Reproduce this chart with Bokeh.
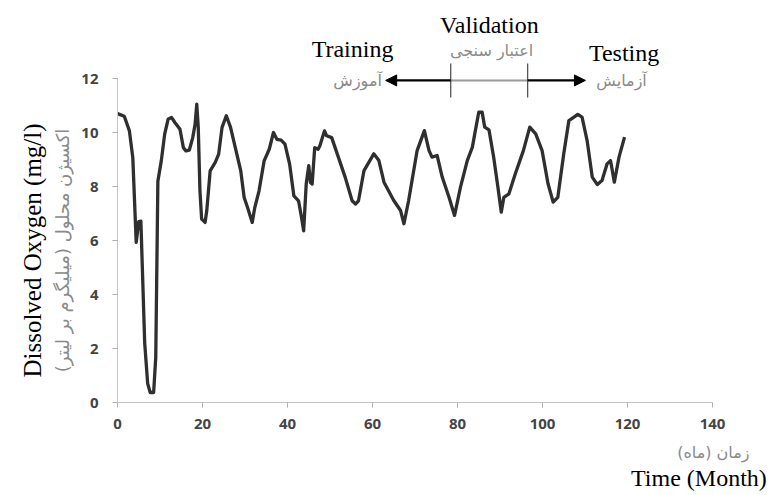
import math
from bokeh.plotting import figure
from bokeh.models import Range1d, FixedTicker, Arrow, NormalHead
from bokeh.core.properties import value
from bokeh.embed import file_html
from bokeh.resources import INLINE

# ---- data ----
month = [0, 1.6, 2.8, 3.6, 4.4, 5.0, 5.5, 6.4, 7.1, 7.7, 8.5, 9.0, 9.5, 10.3, 11.1,
         11.9, 12.7, 13.5, 14.7, 15.5, 16.1, 16.9, 17.7, 18.25, 18.65, 19.0, 19.4,
         19.8, 20.6, 21.0, 21.8, 23.0, 23.8, 24.6, 25.6, 26.6, 27.8, 29.0, 29.8,
         30.6, 31.7, 32.3, 33.3, 34.5, 35.7, 36.7, 37.5, 38.5, 39.4, 40.5, 41.5,
         42.6, 43.3, 43.8, 44.4, 45.0, 45.4, 45.8, 46.4, 47.2, 47.6, 48.7, 49.2,
         50.4, 52.0, 53.6, 55.2, 56.0, 56.7, 58.0, 60.3, 61.5, 62.7, 65.0, 66.6,
         67.4, 68.5, 70.5, 72.2, 73.3, 74.0, 75.2, 76.4, 78.0, 79.3, 80.7, 82.3,
         83.5, 84.2, 85.0, 85.8, 86.4, 87.4, 88.5, 89.5, 90.3, 90.9, 92.1, 93.6,
         95.5, 97.0, 98.4, 99.9, 101.3, 102.5, 103.6, 105.0, 106.2, 107.4, 108.3,
         109.3, 110.5, 111.7, 112.9, 114.0, 115.2, 116.0, 116.9, 118.0, 119.3]
dissolved_oxygen = [10.7, 10.6, 10.06, 9.07, 5.93, 6.7, 6.72, 2.2, 0.7, 0.37, 0.37, 1.67,
                    8.2, 8.95, 9.94, 10.49, 10.56, 10.37, 10.12, 9.44, 9.32, 9.35, 9.81,
                    10.3, 11.05, 10.19, 7.84, 6.79, 6.67, 7.1, 8.58, 8.89, 9.2, 10.19,
                    10.62, 10.19, 9.38, 8.58, 7.59, 7.22, 6.67, 7.22, 7.84, 8.95, 9.38,
                    10.0, 9.75, 9.72, 9.57, 8.83, 7.65, 7.47, 6.85, 6.36, 8.09, 8.77,
                    8.15, 8.09, 9.44, 9.38, 9.5, 10.06, 9.88, 9.81, 9.07, 8.33, 7.47,
                    7.35, 7.47, 8.59, 9.21, 8.96, 8.16, 7.48, 7.11, 6.62, 7.48, 9.33,
                    10.07, 9.33, 9.09, 9.15, 8.35, 7.6, 6.93, 7.98, 8.96, 9.46, 10.07,
                    10.75, 10.75, 10.2, 10.1, 9.09, 7.98, 7.05, 7.6, 7.73, 8.47, 9.33,
                    10.2, 9.95, 9.33, 8.1, 7.42, 7.6, 9.21, 10.44, 10.57, 10.67, 10.57,
                    9.7, 8.35, 8.07, 8.22, 8.84, 8.96, 8.16, 9.09, 9.83]
x_ticks = [0, 20, 40, 60, 80, 100, 120, 140]
y_ticks = [0, 2, 4, 6, 8, 10, 12]
train_end = 78.4     # month where training ends (validation starts)
valid_end = 96.5     # month where validation ends (testing starts)
arrow_left_end = 63.1
arrow_right_end = 110.1

title_en_y = "Dissolved Oxygen (mg/l)"
title_fa_y = "اکسیژن محلول (میلیگرم بر لیتر)"
title_en_x = "Time (Month)"
title_fa_x = "زمان (ماه)"
phase_en = ["Training", "Validation", "Testing"]
phase_fa = ["آموزش", "اعتبار سنجی", "آزمایش"]

SERIF = "Liberation Serif"
FA = "DejaVu Sans"
GRAY = "#8a8a8a"

# the frame covers the whole canvas; axes are pinned at x=0 / y=0
p = figure(width=775, height=495, output_backend="svg", toolbar_location=None,
           x_range=Range1d(-27.53, 154.82), y_range=Range1d(-3.444, 14.889),
           min_border_left=0, min_border_right=0, min_border_top=0,
           min_border_bottom=0)
p.outline_line_color = None
p.xgrid.visible = False
p.ygrid.visible = False

for ax, ticks, bounds in ((p.xaxis, x_ticks, (0, 140)), (p.yaxis, y_ticks, (0, 12))):
    ax.ticker = FixedTicker(ticks=ticks)
    ax.bounds = bounds
    ax.fixed_location = 0
    ax.axis_line_color = "#c4c4c4"
    ax.major_tick_line_color = "#b0b0b0"
    ax.major_tick_in = 0
    ax.major_tick_out = 5
    ax.minor_tick_line_color = None
    ax.major_label_text_font = "Open Sans"
    ax.major_label_text_font_size = "15px"
    ax.major_label_text_font_style = "bold"
    ax.major_label_text_color = "#444444"
p.xaxis.major_label_standoff = 11
p.yaxis.major_label_standoff = 14

# data line
p.line(month, dissolved_oxygen, line_color="#2f2f2f", line_width=3.3, line_join="round")

# phase annotations
arrow_y = 11.93
p.segment(x0=[train_end], y0=[arrow_y], x1=[valid_end], y1=[arrow_y],
          line_color="#9a9a9a", line_width=2)
p.segment(x0=[train_end, valid_end], y0=[12.56, 12.56], x1=[train_end, valid_end],
          y1=[11.30, 11.30], line_color="#555555", line_width=1.3)
for xs, xe in ((train_end, arrow_left_end), (valid_end, arrow_right_end)):
    p.add_layout(Arrow(end=NormalHead(size=11, fill_color="black", line_color="black"),
                       x_start=xs, y_start=arrow_y, x_end=xe, y_end=arrow_y,
                       line_color="black", line_width=2.2))

p.text(x=[55.3, 87.5, 119.2], y=[13.11, 14.0, 12.96], text=phase_en,
       text_font=value(SERIF), text_font_size="24px", text_color="black",
       text_align="center", text_baseline="middle")
p.text(x=[56.5, 88.0, 118.6], y=[11.93, 13.02, 11.93], text=phase_fa,
       text_font=value(FA), text_font_size="16px", text_color=GRAY,
       text_align="center", text_baseline="middle")

# axis titles
p.text(x=[-20.0], y=[5.63], text=[title_en_y], angle=math.pi / 2,
       text_font=value(SERIF), text_font_size="25px", text_color="black",
       text_align="center", text_baseline="middle")
p.text(x=[-12.9], y=[5.63], text=[title_fa_y], angle=math.pi / 2,
       text_font=value(FA), text_font_size="18px", text_color=GRAY,
       text_align="center", text_baseline="middle")
p.text(x=[140.2], y=[-1.85], text=[title_fa_x],
       text_font=value(FA), text_font_size="16px", text_color=GRAY,
       text_align="center", text_baseline="middle")
p.text(x=[136.8], y=[-2.8], text=[title_en_x],
       text_font=value(SERIF), text_font_size="24px", text_color="black",
       text_align="center", text_baseline="middle")

open("out.html", "w").write(file_html(p, INLINE))
